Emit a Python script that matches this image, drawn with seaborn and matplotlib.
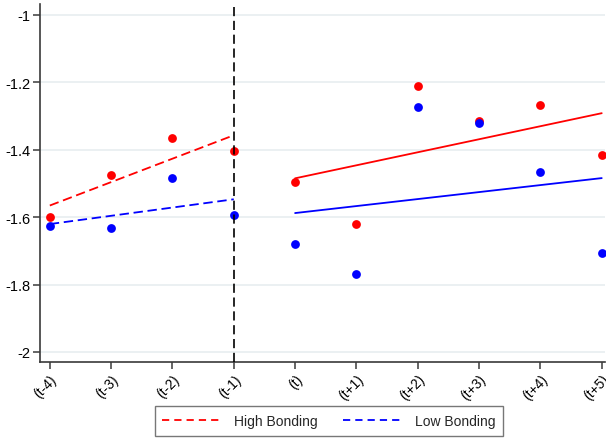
import numpy as np
import pandas as pd
import matplotlib
matplotlib.use("Agg")
import matplotlib.pyplot as plt
import seaborn as sns
from matplotlib.lines import Line2D

# Event-time periods and group means
periods = ["(t-4)", "(t-3)", "(t-2)", "(t-1)", "(t)", "(t+1)", "(t+2)", "(t+3)", "(t+4)", "(t+5)"]
high_bonding = [-1.600, -1.475, -1.365, -1.405, -1.497, -1.620, -1.212, -1.315, -1.268, -1.417]
low_bonding = [-1.626, -1.632, -1.483, -1.594, -1.680, -1.770, -1.272, -1.320, -1.467, -1.707]
y_ticks = [-2, -1.8, -1.6, -1.4, -1.2, -1]
y_tick_labels = ["-2", "-1.8", "-1.6", "-1.4", "-1.2", "-1"]

event_index = 3  # (t-1) marks the break between pre and post periods

df = pd.DataFrame({
    "x": np.arange(len(periods)),
    "high": high_bonding,
    "low": low_bonding,
})
pre = df[df["x"] <= event_index]
post = df[df["x"] > event_index]

sns.set_theme(style="white")
plt.rcParams["font.family"] = ["Liberation Sans", "DejaVu Sans"]

fig = plt.figure(figsize=(6.06, 4.39), dpi=100)
ax = fig.add_axes([0.066, 0.173, 0.932, 0.816])

RED = "#ff0000"
BLUE = "#0000ff"
FIT_DASH = (0, (5.2, 2.6))

for y_min in y_ticks:
    ax.axhline(y_min, color="#e8eef0", lw=1.2, zorder=0)

# Linear fits before and after the event
sns.regplot(data=pre, x="x", y="high", ci=None, scatter=False, ax=ax, truncate=True,
            line_kws=dict(color=RED, lw=1.3, ls=FIT_DASH, zorder=2))
sns.regplot(data=pre, x="x", y="low", ci=None, scatter=False, ax=ax, truncate=True,
            line_kws=dict(color=BLUE, lw=1.3, ls=FIT_DASH, zorder=2))
sns.regplot(data=post, x="x", y="high", ci=None, scatter=False, ax=ax, truncate=True,
            line_kws=dict(color=RED, lw=1.3, zorder=2))
sns.regplot(data=post, x="x", y="low", ci=None, scatter=False, ax=ax, truncate=True,
            line_kws=dict(color=BLUE, lw=1.3, zorder=2))

sns.scatterplot(data=df, x="x", y="high", color=RED, s=40, linewidth=0, ax=ax, zorder=3)
sns.scatterplot(data=df, x="x", y="low", color=BLUE, s=40, linewidth=0, ax=ax, zorder=4)

ax.axvline(event_index, color="black", lw=1.2, ls=(0, (5.5, 2.8)), zorder=5)

ax.set_xlim(-0.16, 9.05)
ax.set_ylim(-2.03, -0.967)
ax.set_xticks(df["x"])
ax.set_xticklabels(periods, rotation=45, ha="right", rotation_mode="anchor", fontsize=10)
ax.set_yticks(y_ticks)
ax.set_yticklabels(y_tick_labels, fontsize=10.5)
ax.set_xlabel("")
ax.set_ylabel("")

for side in ["top", "right"]:
    ax.spines[side].set_visible(False)
for side in ["left", "bottom"]:
    ax.spines[side].set_color("#3a3a3a")
    ax.spines[side].set_linewidth(1.2)
ax.tick_params(axis="both", which="both", direction="out", length=5, width=1.1,
               color="#3a3a3a", left=True, bottom=True, pad=2, labelcolor="black")

handles = [
    Line2D([], [], color=RED, lw=1.3, ls=(0, (4.0, 2.8))),
    Line2D([], [], color=BLUE, lw=1.3, ls=(0, (4.0, 2.8))),
]
leg = fig.legend(handles, ["High Bonding", "Low Bonding"], loc="lower center",
                 bbox_to_anchor=(0.543, 0.002), ncol=2, frameon=True, fancybox=False,
                 fontsize=10, handlelength=4.3, columnspacing=1.8, borderpad=0.55,
                 handletextpad=0.9, borderaxespad=0.1)
leg.get_frame().set_edgecolor("#555555")
leg.get_frame().set_linewidth(1.0)

fig.savefig("out.png", dpi=100)
